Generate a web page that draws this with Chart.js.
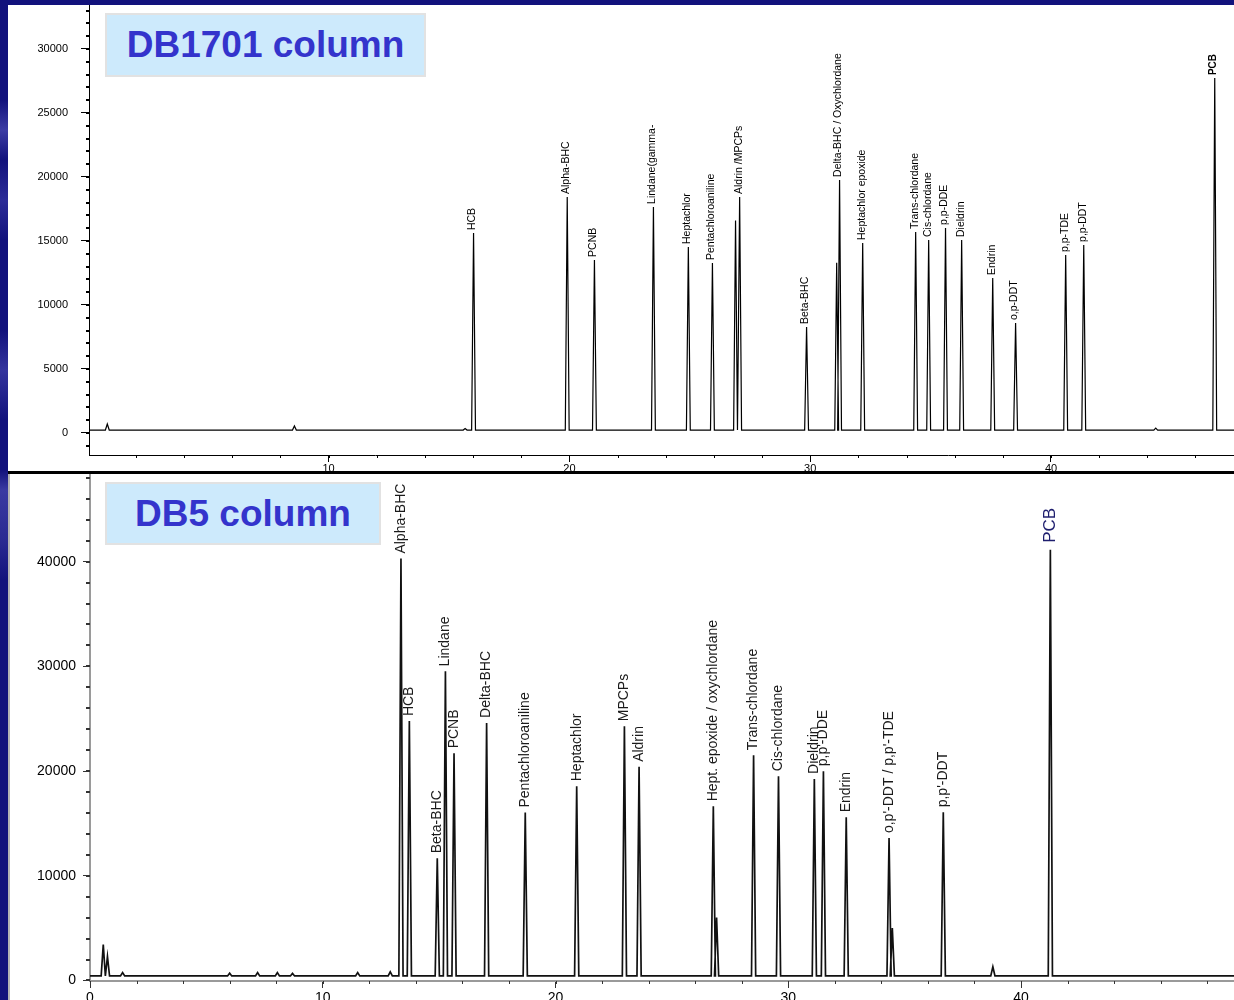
<!DOCTYPE html>
<html>
<head>
<meta charset="utf-8">
<script src="https://cdn.jsdelivr.net/npm/chart.js@4.4.1/dist/chart.umd.min.js"></script>
<style>
html,body{margin:0;padding:0;}
body{width:1234px;height:1000px;background:#12127c;position:relative;overflow:hidden;font-family:'Liberation Sans',Arial,sans-serif;}
#strip{position:absolute;left:0;top:0;width:8px;height:1000px;
  background:linear-gradient(180deg,#12127c 0,#12127c 100px,#3c3ca4 130px,#12127c 160px,#2c2c98 200px,#12127c 240px,#12127c 330px,#34349e 370px,#12127c 420px,#12127c 470px,#3a3aa2 490px,#2a2a92 540px,#12127c 580px,#12127c 1000px);}
.panel{position:absolute;background:#fff;}
#p1{left:8px;top:5px;width:1226px;height:466px;}
#p2{left:8px;top:474px;width:1226px;height:526px;}
#sep{position:absolute;left:8px;top:471px;width:1226px;height:3px;background:#000;}
#greyline{position:absolute;left:8px;top:474px;width:2px;height:526px;background:#b4b4b4;}
canvas{position:absolute;left:0;top:0;}
.title{position:absolute;background:#cdeafc;border:2px solid #e2e2e2;color:#3434cc;font:bold 37px 'Liberation Sans',Arial,sans-serif;display:flex;align-items:center;justify-content:center;box-sizing:border-box;white-space:nowrap;}
#t1{left:105px;top:13px;width:321px;height:64px;}
#t2{left:105px;top:482px;width:276px;height:63px;}
</style>
</head>
<body>
<div id="strip"></div>
<div class="panel" id="p1"><canvas id="c1" width="1226" height="466" style="width:1226px;height:466px"></canvas></div>
<div id="sep"></div>
<div class="panel" id="p2"><canvas id="c2" width="1226" height="526" style="width:1226px;height:526px"></canvas></div>
<div id="greyline"></div>
<div class="title" id="t1">DB1701 column</div>
<div class="title" id="t2">DB5 column</div>
<script>
// ---------- DB1701 column (top) ----------
const topTimes   = [0.81, 8.58, 15.67, 16.02, 19.91, 21.04, 23.49, 24.94, 25.94, 26.90, 27.07, 29.85, 31.10, 31.22, 32.18, 34.38, 34.92, 35.62, 36.29, 37.58, 38.53, 40.61, 41.36, 44.35, 46.80];
const topHeights = [700, 550, 350, 15620, 18440, 13520, 17660, 14530, 13280, 16600, 18440, 8280, 13300, 19770, 14840, 15700, 15080, 16020, 15080, 12110, 8590, 13900, 14690, 380, 27730];
const topLabels  = ['', '', '', 'HCB', 'Alpha-BHC', 'PCNB', 'Lindane(gamma-', 'Heptachlor', 'Pentachloroaniline', '', 'Aldrin /MPCPs', 'Beta-BHC', '', 'Delta-BHC / Oxychlordane', 'Heptachlor epoxide', 'Trans-chlordane', 'Cis-chlordane', 'p,p-DDE', 'Dieldrin', 'Endrin', 'o,p-DDT', 'p,p-TDE', 'p,p-DDT', '', 'PCB'];
const topBaseline = 230;
const topYTicks = [0, 5000, 10000, 15000, 20000, 25000, 30000];
const topXTicks = [10, 20, 30, 40];

// ---------- DB5 column (bottom) ----------
const botTimes   = [0.57, 0.75, 1.40, 6.00, 7.20, 8.05, 8.70, 11.50, 12.90, 13.36, 13.72, 14.92, 15.27, 15.64, 17.04, 18.70, 20.91, 22.96, 23.59, 26.78, 26.92, 28.51, 29.58, 31.12, 31.51, 32.49, 34.33, 34.47, 36.66, 38.79, 41.26];
const botHeights = [3440, 2300, 750, 700, 760, 760, 680, 760, 820, 40290, 24770, 11670, 29520, 21690, 24600, 16040, 18550, 24280, 20400, 16630, 6000, 21510, 19500, 19250, 19980, 15580, 13600, 5000, 16060, 1300, 41130];
const botLabels  = ['', '', '', '', '', '', '', '', '', 'Alpha-BHC', 'HCB', 'Beta-BHC', 'Lindane', 'PCNB', 'Delta-BHC', 'Pentachloroaniline', 'Heptachlor', 'MPCPs', 'Aldrin', 'Hept. epoxide / oxychlordane', '', 'Trans-chlordane', 'Cis-chlordane', 'Dieldrin', "p,p'-DDE", 'Endrin', "o,p'-DDT / p,p'-TDE", '', "p,p'-DDT", '', 'PCB'];
const botBaseline = 430;
const botYTicks = [0, 10000, 20000, 30000, 40000];
const botXTicks = [0, 10, 20, 30, 40];

// Build a chromatogram trace (triangle spike per peak) from the arrays
function buildTrace(times, heights, base, xmin, xmax, hw) {
  const pts = [{x: xmin, y: base}];
  times.forEach((t, i) => {
    pts.push({x: t - hw, y: base});
    pts.push({x: t, y: heights[i]});
    pts.push({x: t + hw, y: base});
  });
  pts.push({x: xmax, y: base});
  return pts;
}

const peakLabelPlugin = {
  id: 'peakLabels',
  afterDatasetsDraw(chart, args, o) {
    const {ctx} = chart;
    const x = chart.scales.x, y = chart.scales.y;
    ctx.save();
    o.times.forEach((t, i) => {
      const txt = o.labels[i];
      if (!txt) return;
      const ov = (o.overrides && o.overrides[txt]) || {};
      const px = x.getPixelForValue(t) + (ov.dx !== undefined ? ov.dx : o.dx);
      const py = y.getPixelForValue(o.heights[i]) - (ov.gap !== undefined ? ov.gap : o.gap);
      ctx.save();
      ctx.translate(px, py);
      ctx.rotate(-Math.PI / 2);
      ctx.font = ov.font || o.font;
      ctx.fillStyle = ov.color || o.color;
      ctx.textAlign = 'left';
      ctx.textBaseline = 'middle';
      ctx.fillText(txt, 0, 0);
      ctx.restore();
    });
    ctx.restore();
  }
};

const minorTickPlugin = {
  id: 'minorTicks',
  afterDraw(chart, args, o) {
    const {ctx, chartArea: a} = chart;
    const x = chart.scales.x, y = chart.scales.y;
    ctx.save();
    ctx.strokeStyle = o.color;
    ctx.lineWidth = o.yWidth;
    for (let v = Math.ceil(y.min / o.yStep) * o.yStep; v <= y.max; v += o.yStep) {
      const py = Math.round(y.getPixelForValue(v));
      ctx.beginPath();
      ctx.moveTo(a.left - o.yLen, py);
      ctx.lineTo(a.left, py);
      ctx.stroke();
    }
    ctx.lineWidth = o.xWidth;
    for (let v = Math.ceil(x.min / o.xStep) * o.xStep; v <= x.max; v += o.xStep) {
      const px = Math.round(x.getPixelForValue(v)) + 0.5;
      ctx.beginPath();
      ctx.moveTo(px, a.bottom);
      ctx.lineTo(px, a.bottom + o.xLen);
      ctx.stroke();
    }
    ctx.restore();
  }
};

function makeChart(id, cfg) {
  return new Chart(document.getElementById(id), {
    type: 'scatter',
    data: {datasets: [{
      data: buildTrace(cfg.times, cfg.heights, cfg.base, cfg.xmin, cfg.xmax, cfg.hw),
      showLine: true, borderColor: cfg.lineColor, borderWidth: cfg.lineWidth,
      pointRadius: 0, tension: 0, fill: false
    }]},
    options: {
      responsive: false, animation: false, events: [],
      layout: {padding: 0},
      plugins: {
        legend: {display: false}, tooltip: {enabled: false},
        peakLabels: {times: cfg.times, heights: cfg.heights, labels: cfg.labels,
          font: cfg.labelFont, color: cfg.labelColor, gap: cfg.gap, dx: cfg.dx, overrides: cfg.overrides},
        minorTicks: cfg.minor
      },
      scales: {
        x: {
          type: 'linear', min: cfg.xmin, max: cfg.xmax,
          afterFit(s) { s.height = cfg.xAxisH; s.paddingLeft = 0; s.paddingRight = 0; },
          afterBuildTicks(s) { s.ticks = cfg.xTicks.map(v => ({value: v})); },
          border: {display: true, color: cfg.axisColor, width: cfg.axisWidth},
          grid: {drawOnChartArea: false, drawTicks: true, tickLength: cfg.xTickLen, color: cfg.tickColor, tickWidth: 1},
          ticks: {color: '#000', font: {family: "'Liberation Sans', Arial, sans-serif", size: cfg.tickFont},
            padding: cfg.xPad, maxRotation: 0, autoSkip: false, callback: v => String(v)}
        },
        y: {
          type: 'linear', min: cfg.ymin, max: cfg.ymax,
          afterFit(s) { s.width = cfg.yAxisW; s.paddingTop = 0; s.paddingBottom = 0; },
          afterBuildTicks(s) { s.ticks = cfg.yTicks.map(v => ({value: v})); },
          border: {display: true, color: cfg.axisColor, width: cfg.axisWidth},
          grid: {drawOnChartArea: false, drawTicks: true, tickLength: cfg.yTickLen, color: cfg.tickColor, tickWidth: 1},
          ticks: {color: '#000', font: {family: "'Liberation Sans', Arial, sans-serif", size: cfg.tickFont},
            padding: cfg.yPad, autoSkip: false, callback: v => String(v)}
        }
      }
    },
    plugins: [peakLabelPlugin, minorTickPlugin]
  });
}

makeChart('c1', {
  times: topTimes, heights: topHeights, labels: topLabels, base: topBaseline,
  xTicks: topXTicks, yTicks: topYTicks,
  xmin: 0.05, xmax: 47.6, ymin: -1719, ymax: 33437, hw: 0.08,
  lineColor: '#000', lineWidth: 1.2,
  labelFont: "10.5px 'Liberation Sans', Arial, sans-serif", labelColor: '#000', gap: 3, dx: -1,
  overrides: {PCB: {font: "bold 10px 'Liberation Sans', Arial, sans-serif"}},
  xAxisH: 16, yAxisW: 81, xTickLen: 7, yTickLen: 8, xPad: 0, yPad: 13, tickFont: 11,
  axisColor: '#000', axisWidth: 1, tickColor: '#000',
  minor: {color: '#000', yStep: 1000, yLen: 3, yWidth: 2, xStep: 2, xLen: 3, xWidth: 1}
});

makeChart('c2', {
  times: botTimes, heights: botHeights, labels: botLabels, base: botBaseline,
  xTicks: botXTicks, yTicks: botYTicks,
  xmin: 0, xmax: 49.15, ymin: -50, ymax: 48370, hw: 0.09,
  lineColor: '#111', lineWidth: 1.7,
  labelFont: "14px 'Liberation Sans', Arial, sans-serif", labelColor: '#1a1a1a', gap: 5, dx: 0,
  overrides: {PCB: {font: "17px 'Liberation Sans', Arial, sans-serif", color: '#1e1e6e', gap: 7}},
  xAxisH: 19, yAxisW: 82, xTickLen: 7, yTickLen: 7, xPad: 2, yPad: 7, tickFont: 14,
  axisColor: '#9a9a9a', axisWidth: 2, tickColor: '#333',
  minor: {color: '#333', yStep: 2000, yLen: 4, yWidth: 2, xStep: 2, xLen: 3, xWidth: 1}
});
</script>
</body>
</html>
